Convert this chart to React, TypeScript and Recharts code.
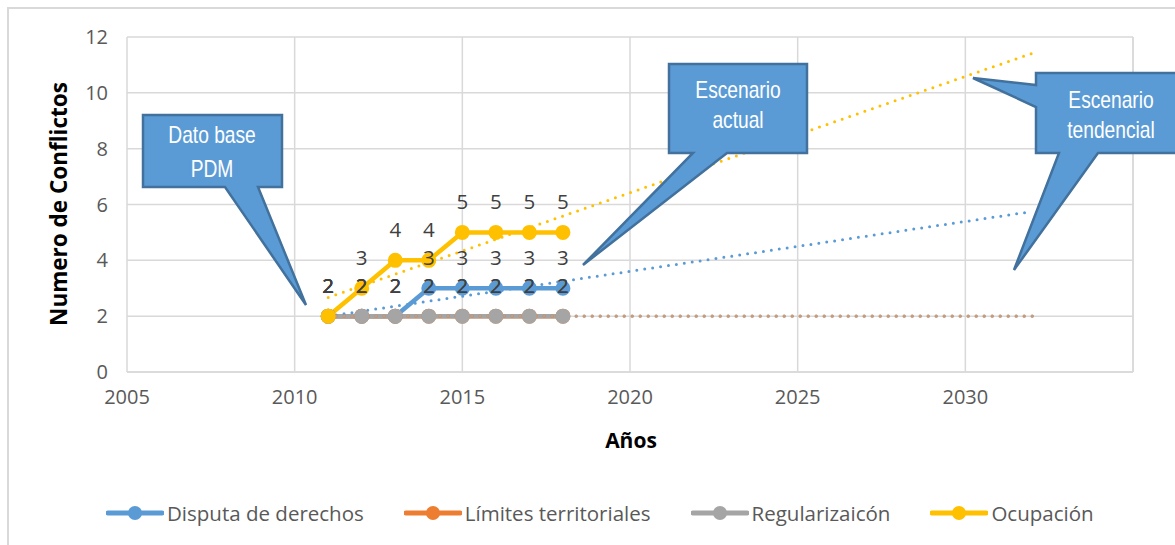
import React from "react";
import {
  CartesianGrid,
  ComposedChart,
  LabelList,
  Line,
  ReferenceLine,
  XAxis,
  YAxis,
} from "recharts";

const YEARS = [2011, 2012, 2013, 2014, 2015, 2016, 2017, 2018];
const DISPUTA = [2, 2, 2, 3, 3, 3, 3, 3];
const LIMITES = [2, 2, 2, 2, 2, 2, 2, 2];
const REGULARIZACION = [2, 2, 2, 2, 2, 2, 2, 2];
const OCUPACION = [2, 3, 4, 4, 5, 5, 5, 5];

// trendline end points as they appear in the picture (start 2011, forecast to 2032)
const TREND_YEARS = [2011, 2032];
const TREND_DISPUTA = [2.0, 5.75];
const TREND_LIMITES = [2, 2];
const TREND_REGULARIZACION = [2, 2];
const TREND_OCUPACION = [2.67, 11.42];

const X_TICKS = [2005, 2010, 2015, 2020, 2025, 2030];
const Y_TICKS = [0, 2, 4, 6, 8, 10, 12];

const SERIES = [
  { name: "Disputa de derechos", values: DISPUTA, color: "#5b9bd5" },
  { name: "Límites territoriales", values: LIMITES, color: "#ed7d31" },
  { name: "Regularizaicón", values: REGULARIZACION, color: "#a5a5a5" },
  { name: "Ocupación", values: OCUPACION, color: "#ffc000" },
];

const TRENDS = [
  { values: TREND_DISPUTA, color: "#5b9bd5", width: 3 },
  { values: TREND_LIMITES, color: "#ed7d31", width: 3.4 },
  { values: TREND_REGULARIZACION, color: "#a5a5a5", width: 2.6 },
  { values: TREND_OCUPACION, color: "#ffc000", width: 3 },
];

const toPoints = (xs: number[], ys: number[]) =>
  xs.map((x, i) => ({ x, y: ys[i] }));

const W = 1175;
const H = 545;
const FONT = "'Open Sans', 'Liberation Sans', sans-serif";
const CALLOUT_FONT = "'Liberation Sans', Arial, sans-serif";

const CALLOUT_FILL = "#5b9bd5";
const CALLOUT_STROKE = "#41719c";

// narrow-looking callout text: regular sans squeezed horizontally
const CalloutText = ({ x, y, children }: { x: number; y: number; children: string }) => (
  <text transform={`translate(${x},${y}) scale(0.8,1)`}>{children}</text>
);

const Callouts = () => (
  <svg
    width={W}
    height={H}
    style={{ position: "absolute", left: 0, top: 0, pointerEvents: "none" }}
  >
    <g fill={CALLOUT_FILL} stroke={CALLOUT_STROKE} strokeWidth={2.5} strokeLinejoin="miter">
      <path d="M143,115 H282 V187 H258 L306,305 L225,187 H143 Z" />
      <path d="M669,64 H807 V153 H727 L583,265 L693,153 H669 Z" />
      <path d="M1036,73 H1182 V153 H1098 L1014,270 L1059,153 H1036 V107 L973,78 L1036,85 Z" />
    </g>
    <g fill="#ffffff" fontFamily={CALLOUT_FONT} fontSize={24} textAnchor="middle">
      <CalloutText x={212} y={143}>Dato base</CalloutText>
      <CalloutText x={212} y={177}>PDM</CalloutText>
      <CalloutText x={738} y={98}>Escenario</CalloutText>
      <CalloutText x={738} y={128}>actual</CalloutText>
      <CalloutText x={1111} y={108}>Escenario</CalloutText>
      <CalloutText x={1111} y={138}>tendencial</CalloutText>
    </g>
    <g fill="#000000" fontFamily={FONT} fontWeight={700} fontSize={21} textAnchor="middle">
      <text x={631} y={448}>Años</text>
      <text fontSize={22.5} transform="translate(67,204) rotate(-90)">
        Numero de Conflictos
      </text>
    </g>
  </svg>
);

const Legend = () => (
  <div
    style={{
      position: "absolute",
      left: 106,
      top: 499,
      display: "flex",
      gap: 40,
      fontFamily: FONT,
      fontSize: 20.5,
      color: "#595959",
      alignItems: "center",
      whiteSpace: "nowrap",
    }}
  >
    {SERIES.map((s) => (
      <div key={s.name} style={{ display: "flex", alignItems: "center", gap: 3 }}>
        <svg width={58} height={18}>
          <line x1={2} y1={9} x2={56} y2={9} stroke={s.color} strokeWidth={5} strokeLinecap="round" />
          <circle cx={29} cy={9} r={7} fill={s.color} />
        </svg>
        <span>{s.name}</span>
      </div>
    ))}
  </div>
);

export default function App() {
  return (
    <div style={{ position: "relative", width: W, height: H, background: "#fff", overflow: "hidden" }}>
      <style>{`body{margin:0}`}</style>
      <svg width={W} height={H} style={{ position: "absolute", left: 0, top: 0 }}>
        <rect x={8} y={8} width={1200} height={600} fill="none" stroke="#d9d9d9" strokeWidth={2} />
      </svg>
      <div style={{ position: "absolute", left: 0, top: 0 }}>
        <ComposedChart
          width={W}
          height={H}
          margin={{ top: 37, right: 42, bottom: 0, left: 0 }}
        >
          <CartesianGrid stroke="#d9d9d9" strokeWidth={1.5} />
          <XAxis
            type="number"
            dataKey="x"
            domain={[2005, 2035]}
            ticks={X_TICKS}
            allowDataOverflow
            height={173}
            axisLine={{ stroke: "#d9d9d9", strokeWidth: 1.5 }}
            tickLine={false}
            tickSize={0}
            tickMargin={18}
            tick={{ fill: "#595959", fontSize: 20, fontFamily: FONT }}
          />
          <YAxis
            type="number"
            domain={[0, 12]}
            ticks={Y_TICKS}
            width={127}
            axisLine={false}
            tickLine={false}
            tickSize={0}
            tickMargin={19}
            tick={{ fill: "#595959", fontSize: 20, fontFamily: FONT }}
          />
          <ReferenceLine x={2035} stroke="#d9d9d9" strokeWidth={1.5} />
          {SERIES.map((s) => (
            <Line
              key={s.name}
              data={toPoints(YEARS, s.values)}
              dataKey="y"
              name={s.name}
              type="linear"
              stroke={s.color}
              strokeWidth={4.5}
              dot={{ r: 6.5, fill: s.color, stroke: s.color, strokeWidth: 2 }}
              activeDot={false}
              isAnimationActive={false}
            >
              <LabelList
                dataKey="y"
                position="top"
                offset={23}
                fill="#404040"
                fontSize={20.5}
                fontFamily={FONT}
              />
            </Line>
          ))}
          {TRENDS.map((t, i) => (
            <Line
              key={`trend-${i}`}
              data={toPoints(TREND_YEARS, t.values)}
              dataKey="y"
              type="linear"
              stroke={t.color}
              strokeWidth={t.width}
              strokeDasharray="0 8"
              strokeLinecap="round"
              dot={false}
              activeDot={false}
              legendType="none"
              isAnimationActive={false}
            />
          ))}
        </ComposedChart>
      </div>
      <Callouts />
      <Legend />
    </div>
  );
}
